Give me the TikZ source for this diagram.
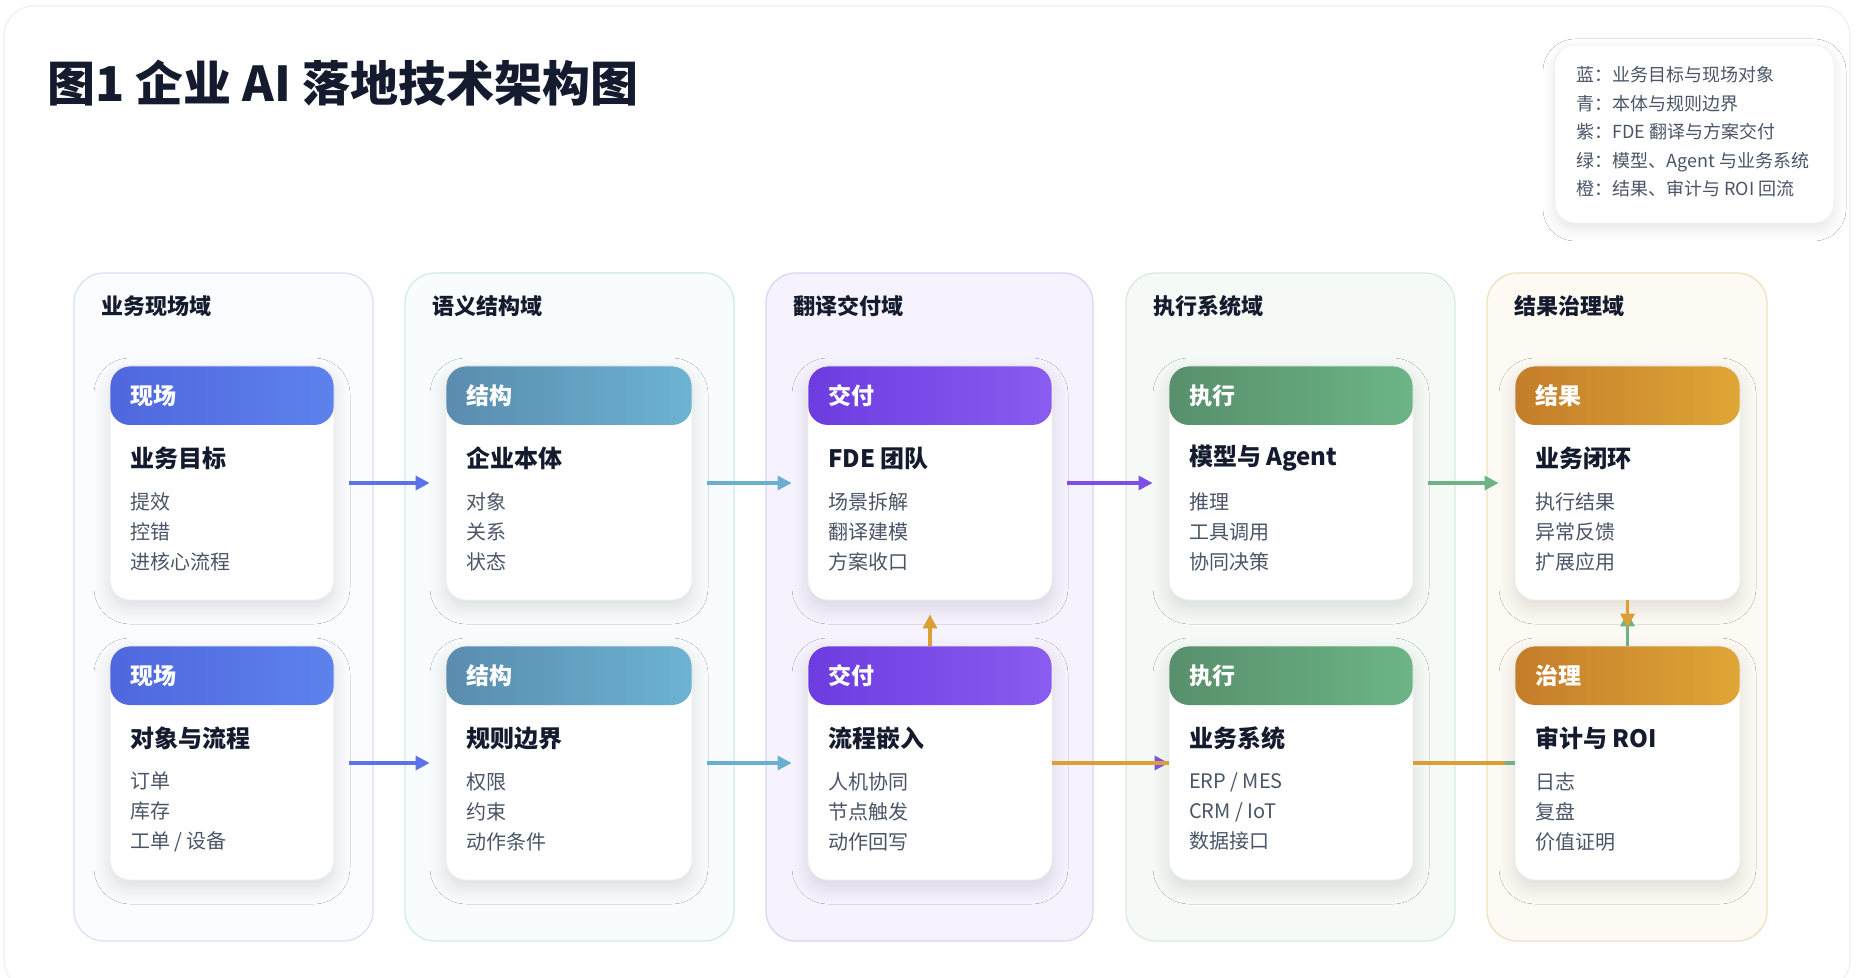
\documentclass[tikz,border=0pt]{standalone}
\usepackage{fontspec}
\setmainfont{Noto Sans CJK SC}
\usetikzlibrary{arrows.meta,shadows.blur}
\definecolor{ink}{HTML}{151B2E}
\definecolor{gtext}{HTML}{4A5568}
\definecolor{bA}{HTML}{4F67DE}\definecolor{bB}{HTML}{5D82EC}
\definecolor{cA}{HTML}{5A8CAE}\definecolor{cB}{HTML}{6CB3D2}
\definecolor{pA}{HTML}{6C3CE0}\definecolor{pB}{HTML}{8A5CF0}
\definecolor{gA}{HTML}{588F6C}\definecolor{gB}{HTML}{6CB586}
\definecolor{oA}{HTML}{C47D2A}\definecolor{oB}{HTML}{DFA636}
\definecolor{arB}{HTML}{5B72E8}\definecolor{arC}{HTML}{6AAFCF}
\definecolor{arP}{HTML}{7B50E8}\definecolor{arG}{HTML}{6DB386}
\definecolor{arO}{HTML}{DBA035}
\definecolor{d1}{HTML}{D8E0F8}\definecolor{d2}{HTML}{CDEAF0}\definecolor{d3}{HTML}{DBD1F5}\definecolor{d4}{HTML}{D6EADB}\definecolor{d5}{HTML}{F0DFBA}
\definecolor{f1}{HTML}{FBFCFF}\definecolor{f2}{HTML}{F8FCFD}\definecolor{f3}{HTML}{F6F3FE}\definecolor{f4}{HTML}{F6FAF7}\definecolor{f5}{HTML}{FDFAF3}
\tikzset{
  card/.style={draw=black!7,fill=white,rounded corners=10pt,inner sep=0pt,minimum height=117pt,
    blur shadow={shadow blur steps=10,shadow xshift=0pt,shadow yshift=-4pt,shadow opacity=12,shadow blur radius=8pt}},
  headtxt/.style={anchor=west,text=white,font=\fontsize{11.5}{13}\selectfont\bfseries,inner sep=0pt},
  ctitle/.style={anchor=west,text=ink,font=\fontsize{12}{14}\selectfont\bfseries,inner sep=0pt},
  items/.style={anchor=west,text=gtext,font=\fontsize{10}{15}\selectfont,align=left,inner sep=0pt},
  dom/.style={rounded corners=15pt,line width=0.6pt},
  domtxt/.style={anchor=west,text=ink,font=\fontsize{11}{13}\selectfont\bfseries,inner sep=0pt},
  arr/.style={line width=1.6pt,-{Triangle[length=7pt,width=7pt]}},
  ln/.style={line width=1.6pt},
}
\newcommand\card[9]{%
  \node[card,minimum width=#4*0.5pt,
    path picture={\shade[left color=#5,right color=#6] (path picture bounding box.north west) rectangle ([yshift=-29.5pt]path picture bounding box.north east);}]
    (#1) at (#2+#4/2,#3+117) {};
  \node[headtxt] (#1h) at ([xshift=10pt,yshift=-15pt]#1.north west) {#7};
  \node[ctitle] (#1t) at ([xshift=10pt,yshift=-46.5pt]#1.north west) {#8};
  \node[items] (#1i) at ([xshift=10pt,yshift=-83pt]#1.north west) {#9};
}
\begin{document}
\begin{tikzpicture}[x=0.5pt,y=-0.5pt]
\useasboundingbox (0,0) rectangle (1857,978);
\fill[white] (0,0) rectangle (1857,978);
\draw[black!6,rounded corners=15pt,line width=0.6pt] (4,6) rectangle (1850,990);
\node[anchor=west,text=ink,font=\fontsize{24}{28}\selectfont\bfseries,inner sep=0pt] (title) at (47,83) {图1 企业 AI 落地技术架构图};
% legend
\node[draw=blue!6,fill=white,rounded corners=10pt,minimum width=139.5pt,minimum height=89pt,inner sep=0pt,
  blur shadow={shadow blur steps=10,shadow xshift=0pt,shadow yshift=-3pt,shadow opacity=10,shadow blur radius=6pt}] (leg) at (1694.5,134) {};
\node[anchor=north west,text=gtext,font=\fontsize{9}{14.3}\selectfont,align=left,inner sep=0pt] (legt) at (1576,66)
  {蓝：业务目标与现场对象\\青：本体与规则边界\\紫：FDE 翻译与方案交付\\绿：模型、Agent 与业务系统\\橙：结果、审计与 ROI 回流};
% domains
\draw[dom,draw=d1,fill=f1] (74,273) rectangle (373,941);
\draw[dom,draw=d2,fill=f2] (405,273) rectangle (734,941);
\draw[dom,draw=d3,fill=f3] (766,273) rectangle (1093,941);
\draw[dom,draw=d4,fill=f4] (1126,273) rectangle (1455,941);
\draw[dom,draw=d5,fill=f5] (1487,273) rectangle (1767,941);
\node[domtxt] (dt1) at (101,306) {业务现场域};
\node[domtxt] (dt2) at (432,306) {语义结构域};
\node[domtxt] (dt3) at (793,306) {翻译交付域};
\node[domtxt] (dt4) at (1153,306) {执行系统域};
\node[domtxt] (dt5) at (1514,306) {结果治理域};
% cards
\card{c11}{110}{366}{224}{bA}{bB}{现场}{业务目标}{提效\\控错\\进核心流程}
\card{c12}{110}{646}{224}{bA}{bB}{现场}{对象与流程}{订单\\库存\\工单 / 设备}
\card{c21}{446}{366}{246}{cA}{cB}{结构}{企业本体}{对象\\关系\\状态}
\card{c22}{446}{646}{246}{cA}{cB}{结构}{规则边界}{权限\\约束\\动作条件}
\card{c31}{808}{366}{244}{pA}{pB}{交付}{FDE 团队}{场景拆解\\翻译建模\\方案收口}
\card{c32}{808}{646}{244}{pA}{pB}{交付}{流程嵌入}{人机协同\\节点触发\\动作回写}
\card{c41}{1169}{366}{244}{gA}{gB}{执行}{模型与 Agent}{推理\\工具调用\\协同决策}
\card{c42}{1169}{646}{244}{gA}{gB}{执行}{业务系统}{ERP / MES\\CRM / IoT\\数据接口}
\card{c51}{1515}{366}{225}{oA}{oB}{结果}{业务闭环}{执行结果\\异常反馈\\扩展应用}
\card{c52}{1515}{646}{225}{oA}{oB}{治理}{审计与 ROI}{日志\\复盘\\价值证明}
% connectors
\draw[arr,arB] ([xshift=7.5pt]c11.east) -- ([xshift=-8pt]c21.west);
\draw[arr,arB] ([xshift=7.5pt]c12.east) -- ([xshift=-8pt]c22.west);
\draw[arr,arC] ([xshift=7.5pt]c21.east) -- ([xshift=-8pt]c31.west);
\draw[arr,arC] ([xshift=7.5pt]c22.east) -- ([xshift=-8pt]c32.west);
\draw[arr,arP] ([xshift=7.5pt]c31.east) -- ([xshift=-8pt]c41.west);
\draw[arr,arG] ([xshift=7.5pt]c41.east) -- ([xshift=-8pt]c51.west);
\draw[arr,arP] (c32.east) -- (c42.west);
\draw[ln,arO] (c32.east) -- (c42.west);
\draw[ln,arG] (c42.east) -- (c52.west);
\draw[ln,arO] (c42.east) -- ([xshift=-5pt]c52.west);
\draw[arr,arO] (c32.north) -- ([yshift=-7pt]c31.south);
\draw[arr,arG] (c52.north) -- ([yshift=-6pt]c51.south);
\draw[arr,arO] (c51.south) -- ([yshift=9pt]c52.north);
\end{tikzpicture}
\end{document}
